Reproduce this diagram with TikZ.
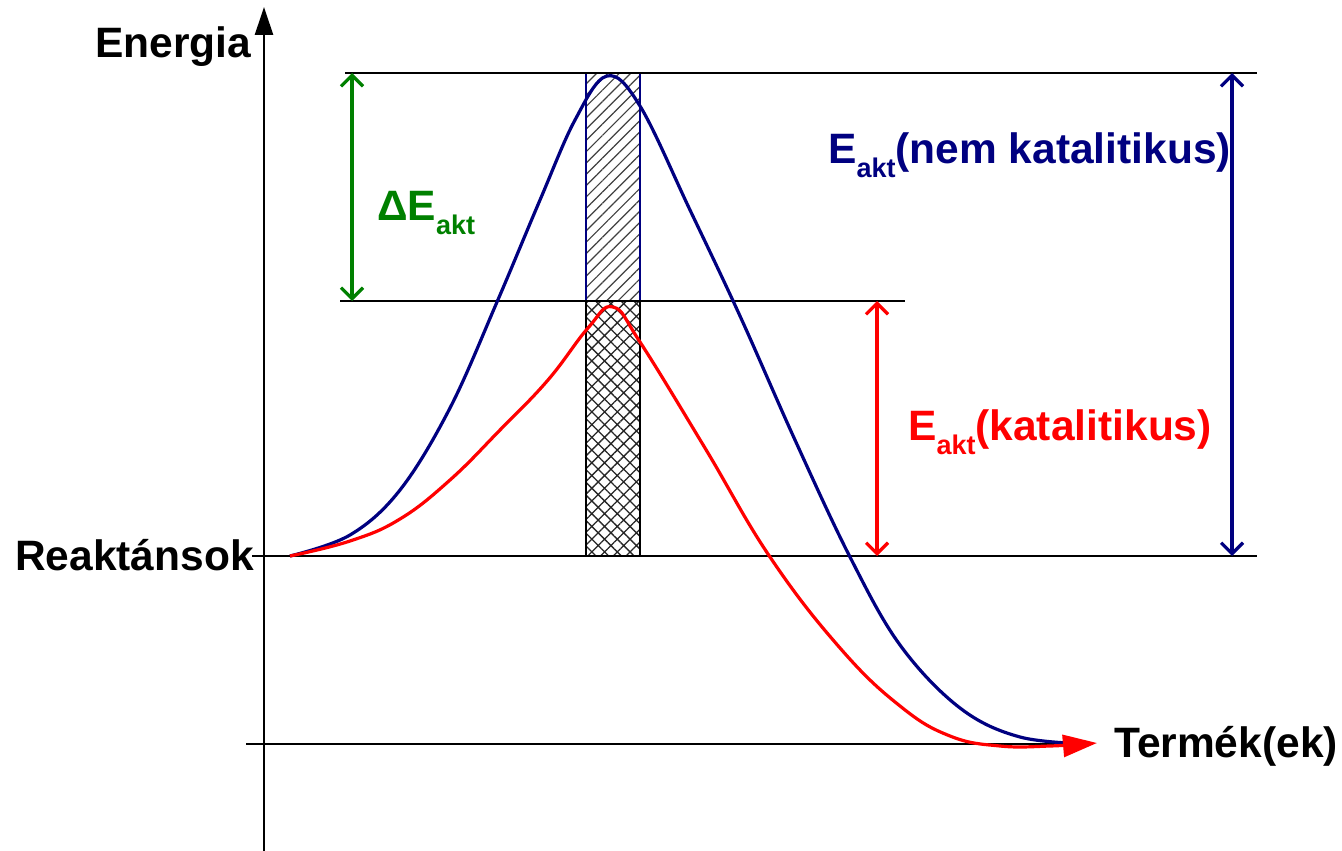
\documentclass[tikz,border=0pt]{standalone}
\usepackage{fontspec}
\setmainfont{Liberation Sans}
\usetikzlibrary{arrows.meta,patterns.meta}
\definecolor{uncat}{HTML}{000080}
\definecolor{cat}{HTML}{FF0000}
\definecolor{diff}{HTML}{008000}
\tikzset{
  level/.style={draw=black, line width=2.2pt},
  profile/.style={line width=3.2pt, line join=round},
  span/.style={{Straight Barb[length=11pt,width=22pt]}-{Straight Barb[length=11pt,width=22pt]},
               line width=3.2pt},
  axlabel/.style={inner sep=0pt, anchor=base west, font=\fontsize{42.5}{50}\selectfont\bfseries},
  hatchbar/.style={pattern={Lines[angle=45,distance=8pt,line width=1.2pt]}, pattern color=black!75},
  crossbar/.style={pattern={Hatch[angle=45,distance=9pt,line width=1.3pt]}, pattern color=black!85}
}
\newcommand{\Eakt}{E\raisebox{-14pt}{\fontsize{27}{30}\selectfont akt}}

\begin{document}
\begin{tikzpicture}[x=1pt,y=-1pt]
  \useasboundingbox (0,0) rectangle (1342,851);

  % levels
  \coordinate (tsL) at (345,73);  \coordinate (tsR) at (1257,73);
  \coordinate (catL) at (340,301); \coordinate (catR) at (905,301);
  \coordinate (reL) at (252,556); \coordinate (reR) at (1257,556);
  \coordinate (prL) at (246,744); \coordinate (prR) at (1085,744);

  \draw[uncat, line width=1.6pt, hatchbar] (586,73) rectangle (640,301);
  \draw[black, line width=2.8pt, crossbar] (586,301) rectangle (640,556);

  \draw[level] (tsL) -- (tsR);
  \draw[level] (catL) -- (catR);
  \draw[level] (reL) -- (reR);
  \draw[level] (prL) -- (prR);

  \coordinate (ax0) at (264,851); \coordinate (ax1) at (264,7);
  \draw[line width=2.6pt, -{Triangle[length=28pt,width=18pt]}] (ax0) -- (ax1);

  \draw[profile, uncat] plot[smooth, tension=0.6] coordinates {
    (290,556) (350,535) (400,490) (450,408) (497,302) (540,200) (575,120)
    (607,76) (640,106) (690,210) (740,316) (795,440) (850,557)
    (900,645) (960,708) (1020,737) (1090,744)};
  \draw[profile, cat, -{Triangle[length=34pt,width=22pt]}] plot[smooth, tension=0.7] coordinates {
    (290,556) (350,541) (400,519) (450,480) (500,430) (548,380) (588,328)
    (613,307) (640,342) (705,448) (770,557) (840,648)
    (900,706) (950,736) (1000,746) (1050,746) (1097,743)};

  % activation energies
  \coordinate (dT) at (352,73);  \coordinate (dB) at (352,301);
  \coordinate (cT) at (877,301); \coordinate (cB) at (877,556);
  \coordinate (nT) at (1232,73); \coordinate (nB) at (1232,556);
  \draw[span, diff] (dT) -- (dB);
  \draw[span, cat] (cT) -- (cB);
  \draw[span, uncat] (nT) -- (nB);

  \node[axlabel] (energia) at (95,58) {Energia};
  \node[axlabel] (reakt) at (15,570) {Reaktánsok};
  \node[axlabel] (termek) at (1114,757) {Termék(ek)};
  \node[axlabel, text=diff] (dlab) at (377,220) {Δ\Eakt};
  \node[axlabel, text=uncat] (nlab) at (828,163) {\Eakt(nem katalitikus)};
  \node[axlabel, text=cat] (clab) at (908,440) {\Eakt(katalitikus)};
\end{tikzpicture}
\end{document}
